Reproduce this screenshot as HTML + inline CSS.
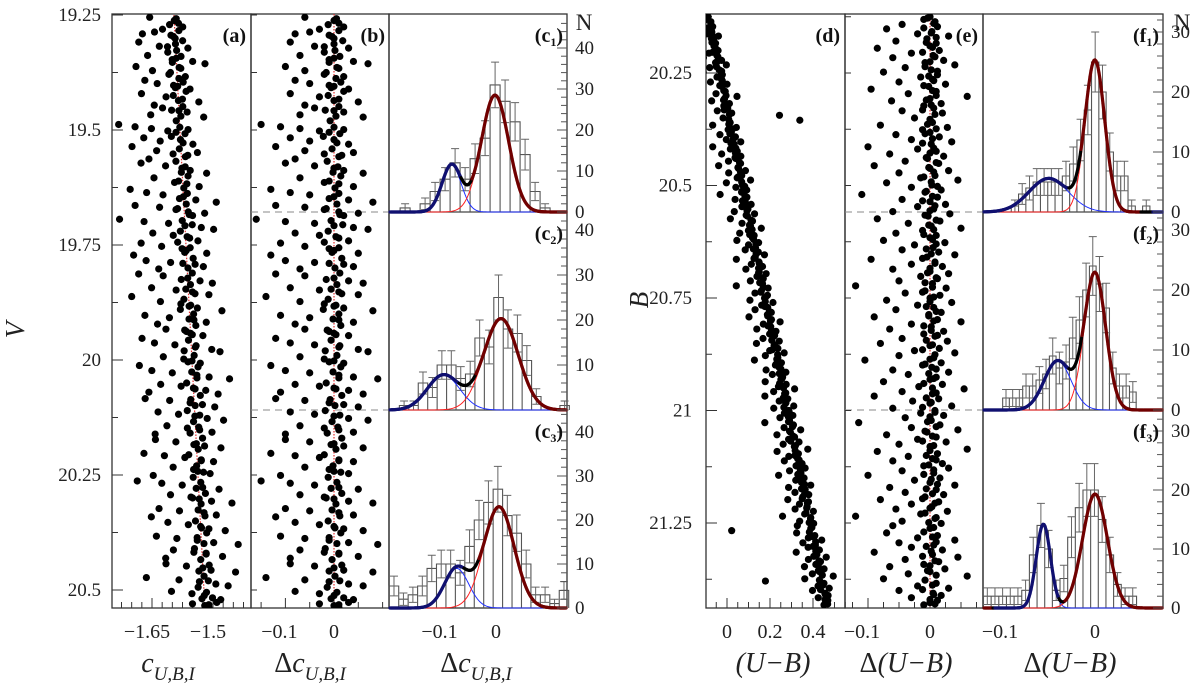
<!DOCTYPE html>
<html><head><meta charset="utf-8"><style>
html,body{margin:0;padding:0;background:#fff;}
svg, svg text{font-family:"Liberation Serif",serif;}
</style></head><body>
<svg id="fig" width="1200" height="685" viewBox="0 0 1200 685" font-family="Liberation Serif, serif" xmlns="http://www.w3.org/2000/svg">
<rect width="1200" height="685" fill="#fff"/>
<defs>
<clipPath id="clipA"><rect x="112" y="14" width="139" height="594"/></clipPath>
<clipPath id="clipB"><rect x="251" y="14" width="138" height="594"/></clipPath>
<clipPath id="clipD"><rect x="706" y="14" width="139" height="594"/></clipPath>
<clipPath id="clipE"><rect x="845" y="14" width="138" height="594"/></clipPath>
</defs>
<g id="layer"></g>
</svg>
<script>
// ---------------- DATA ----------------
const leftStars = "19.255 -0.06 19.262 0.00 19.268 0.01 19.281 -0.03 19.287 -0.05 19.294 -0.01 19.276 0.02 19.301 0.00 19.291 -0.08 19.309 -0.09 19.318 -0.04 19.313 0.00 19.322 0.03 19.331 -0.02 19.338 -0.07 19.344 0.00 19.351 0.04 19.347 -0.01 19.356 0.07 19.362 -0.10 19.371 -0.06 19.366 0.01 19.379 -0.02 19.384 0.02 19.392 -0.08 19.399 -0.05 19.405 0.00 19.411 0.03 19.403 -0.01 19.421 -0.09 19.428 -0.03 19.433 0.01 19.439 0.05 19.446 -0.06 19.452 -0.04 19.458 0.00 19.461 0.02 19.467 -0.07 19.472 0.06 19.488 -0.15 19.493 -0.11 19.497 -0.07 19.502 -0.03 19.494 0.00 19.505 -0.01 19.499 0.02 19.517 -0.09 19.524 -0.05 19.521 0.00 19.531 0.03 19.536 -0.12 19.545 -0.06 19.552 -0.02 19.558 0.01 19.549 0.04 19.563 -0.08 19.572 -0.10 19.578 -0.04 19.583 0.00 19.588 0.02 19.594 0.06 19.604 -0.07 19.611 -0.01 19.617 0.01 19.623 0.04 19.629 -0.13 19.636 -0.09 19.641 -0.05 19.645 0.00 19.652 0.03 19.657 0.08 19.664 -0.12 19.668 -0.06 19.673 -0.02 19.678 0.01 19.681 0.05 19.686 0.02 19.694 -0.16 19.699 -0.10 19.703 -0.04 19.708 0.00 19.712 0.04 19.716 0.07 19.724 -0.08 19.729 -0.03 19.735 0.01 19.741 0.03 19.746 -0.11 19.753 -0.06 19.758 -0.01 19.762 0.00 19.768 0.05 19.772 -0.13 19.784 -0.10 19.788 -0.04 19.792 0.02 19.797 0.04 19.802 -0.07 19.813 -0.12 19.817 -0.06 19.822 0.00 19.828 0.03 19.833 0.06 19.843 -0.09 19.848 -0.03 19.852 0.01 19.858 0.05 19.862 -0.14 19.873 -0.07 19.878 -0.02 19.883 0.00 19.887 0.02 19.893 0.08 19.903 -0.11 19.908 -0.05 19.913 0.01 19.918 0.04 19.922 -0.08 19.933 -0.06 19.938 -0.01 19.942 0.00 19.947 0.03 19.953 -0.12 19.963 -0.09 19.967 -0.04 19.972 0.01 19.977 0.05 19.982 0.07 19.993 -0.07 19.998 -0.02 20.002 0.00 20.007 0.02 20.012 -0.13 20.023 -0.10 20.028 -0.05 20.033 0.01 20.037 0.04 20.041 0.09 20.053 -0.08 20.057 -0.03 20.061 0.00 20.066 0.03 20.070 -0.11 20.074 0.06 20.084 -0.12 20.088 -0.06 20.093 -0.01 20.097 0.02 20.102 0.05 20.113 -0.09 20.118 -0.04 20.122 0.00 20.127 0.03 20.131 0.07 20.143 -0.07 20.148 -0.02 20.152 0.01 20.157 0.04 20.161 -0.10 20.173 -0.10 20.178 -0.05 20.182 0.00 20.187 0.02 20.191 0.06 20.203 -0.13 20.208 -0.08 20.212 -0.03 20.217 0.01 20.221 0.04 20.233 -0.06 20.238 -0.01 20.242 0.00 20.247 0.03 20.251 -0.11 20.263 -0.15 20.268 -0.09 20.272 -0.04 20.277 0.01 20.281 0.05 20.293 -0.07 20.298 -0.02 20.302 0.00 20.307 0.03 20.311 0.08 20.323 -0.10 20.328 -0.05 20.332 0.01 20.337 0.04 20.341 -0.12 20.353 -0.08 20.358 -0.03 20.362 0.00 20.367 0.02 20.371 0.06 20.383 -0.11 20.388 -0.06 20.392 -0.01 20.397 0.03 20.401 0.09 20.413 -0.07 20.418 -0.02 20.422 0.01 20.427 0.05 20.431 -0.09 20.443 -0.09 20.448 -0.04 20.452 0.00 20.457 0.02 20.461 0.08 20.473 -0.14 20.478 -0.06 20.482 -0.01 20.487 0.03 20.491 0.06 20.503 -0.08 20.508 -0.03 20.512 0.00 20.517 0.02 20.521 0.04 20.530 -0.03 20.534 0.00 20.538 0.01 20.527 0.03";
const leftCore = "19.258 0.005 19.271 -0.012 19.284 0.010 19.297 -0.004 19.306 0.018 19.319 -0.020 19.327 0.002 19.340 0.012 19.353 -0.010 19.364 0.006 19.375 -0.016 19.388 0.004 19.396 0.014 19.408 -0.006 19.416 0.020 19.425 -0.012 19.436 0.000 19.449 0.010 19.457 -0.018 19.470 0.004 19.480 -0.008 19.508 0.012 19.514 -0.022 19.528 0.006 19.541 -0.004 19.555 0.016 19.568 -0.014 19.580 0.008 19.592 -0.002 19.600 0.014 19.614 -0.020 19.626 0.002 19.638 0.010 19.649 -0.010 19.661 0.006 19.671 -0.016 19.684 0.012 19.697 -0.006 19.706 0.018 19.720 -0.012 19.732 0.004 19.744 -0.020 19.756 0.010 19.766 -0.004 19.779 0.016 19.790 -0.010 19.800 0.002 19.811 0.012 19.825 -0.016 19.836 0.006 19.846 -0.006 19.856 0.016 19.868 -0.012 19.881 0.004 19.890 -0.022 19.900 0.010 19.911 -0.002 19.925 0.014 19.935 -0.014 19.945 0.004 19.957 -0.006 19.969 0.012 19.980 -0.018 19.990 0.006 20.004 -0.010 20.015 0.014 20.026 -0.002 20.039 0.010 20.050 -0.016 20.063 0.004 20.077 0.016 20.086 -0.008 20.099 0.002 20.110 -0.018 20.120 0.012 20.134 -0.004 20.146 0.008 20.159 -0.014 20.170 0.016 20.184 -0.006 20.194 0.004 20.206 -0.020 20.219 0.010 20.230 -0.002 20.244 0.014 20.255 -0.012 20.266 0.006 20.279 -0.006 20.290 0.016 20.300 -0.016 20.313 0.004 20.326 -0.004 20.339 0.012 20.350 -0.012 20.365 0.002 20.376 0.014 20.386 -0.010 20.399 0.006 20.410 -0.018 20.420 0.010 20.434 -0.004 20.446 0.016 20.459 -0.010 20.470 0.002 20.480 0.012 20.494 -0.014 20.505 0.006 20.519 -0.006 20.532 0.010";
const rightStars = "20.125 0.000 20.131 -0.010 20.136 0.008 20.142 -0.045 20.147 0.012 20.152 -0.070 20.158 0.003 20.163 -0.020 20.168 0.030 20.174 -0.005 20.179 -0.055 20.184 0.010 20.190 0.000 20.195 -0.085 20.200 0.015 20.206 -0.030 20.211 0.005 20.216 -0.060 20.222 0.022 20.227 -0.008 20.232 0.040 20.238 -0.040 20.243 0.002 20.248 -0.075 20.254 0.012 20.259 -0.015 20.264 0.004 20.270 -0.050 20.275 0.025 20.280 -0.002 20.286 -0.095 20.291 0.010 20.296 -0.035 20.302 0.060 20.307 0.000 20.312 -0.062 20.318 0.018 20.323 -0.010 20.328 0.006 20.334 -0.045 20.339 0.020 20.344 0.240 20.350 -0.025 20.355 0.330 20.360 0.004 20.366 -0.080 20.371 0.028 20.376 -0.012 20.382 0.000 20.387 -0.055 20.392 0.015 20.398 -0.030 20.403 0.035 20.408 0.002 20.414 -0.100 20.419 -0.020 20.424 0.010 20.430 -0.065 20.435 0.022 20.440 -0.004 20.446 -0.040 20.451 0.014 20.456 -0.090 20.462 0.000 20.467 0.030 20.472 -0.050 20.478 0.008 20.483 -0.015 20.488 0.045 20.494 -0.070 20.499 0.003 20.504 -0.030 20.510 0.018 20.515 -0.008 20.520 -0.110 20.526 0.012 20.531 -0.045 20.536 0.000 20.542 0.025 20.547 -0.020 20.552 0.006 20.558 -0.060 20.563 0.032 20.568 -0.003 20.574 -0.085 20.579 0.016 20.584 -0.035 20.590 0.002 20.595 0.050 20.600 -0.012 20.606 -0.055 20.611 0.010 20.616 0.000 20.622 -0.075 20.627 0.024 20.632 -0.025 20.638 0.005 20.643 -0.045 20.648 0.014 20.654 0.040 20.659 -0.005 20.664 -0.095 20.670 0.008 20.675 -0.030 20.680 0.020 20.686 -0.060 20.691 0.000 20.696 0.030 20.702 -0.015 20.707 0.012 20.712 -0.050 20.718 0.004 20.723 -0.120 20.728 0.026 20.734 -0.008 20.739 -0.040 20.744 0.016 20.750 0.000 20.755 -0.070 20.760 0.035 20.766 -0.020 20.771 0.006 20.776 -0.055 20.782 0.018 20.787 -0.002 20.792 -0.090 20.798 0.012 20.803 0.050 20.808 -0.030 20.814 0.002 20.819 -0.065 20.824 0.022 20.830 -0.010 20.835 0.008 20.840 -0.045 20.846 0.028 20.851 -0.080 20.856 0.000 20.862 0.015 20.867 -0.025 20.872 0.040 20.878 -0.050 20.883 0.006 20.888 -0.105 20.894 0.018 20.899 -0.012 20.904 0.003 20.910 -0.060 20.915 0.030 20.920 -0.035 20.926 0.010 20.931 0.000 20.936 -0.075 20.942 0.020 20.947 -0.018 20.952 0.055 20.958 -0.045 20.963 0.004 20.968 -0.090 20.974 0.014 20.979 -0.028 20.984 0.000 20.990 0.035 20.995 -0.060 21.000 0.008 21.006 -0.015 21.011 0.022 21.016 -0.040 21.022 0.002 21.027 -0.115 21.032 0.016 21.038 -0.030 21.043 0.045 21.048 -0.005 21.054 -0.070 21.059 0.010 21.064 -0.020 21.070 0.026 21.075 -0.050 21.080 0.000 21.086 0.060 21.091 -0.085 21.096 0.012 21.102 -0.035 21.107 0.004 21.112 -0.060 21.118 0.020 21.123 -0.010 21.128 0.030 21.134 -0.045 21.139 0.006 21.144 -0.100 21.150 0.016 21.155 -0.025 21.160 0.000 21.166 0.040 21.171 -0.065 21.176 0.010 21.182 -0.040 21.187 0.022 21.192 -0.008 21.198 -0.080 21.203 0.014 21.208 -0.030 21.214 0.003 21.219 -0.055 21.224 0.028 21.230 -0.015 21.235 -0.120 21.240 0.008 21.246 -0.045 21.251 0.018 21.256 -0.060 21.262 0.000 21.267 -0.370 21.272 -0.070 21.278 0.012 21.283 -0.020 21.288 0.040 21.294 -0.050 21.299 0.006 21.304 -0.030 21.310 0.020 21.315 -0.090 21.320 0.004 21.326 0.045 21.331 -0.040 21.336 0.014 21.342 -0.010 21.347 -0.065 21.352 0.024 21.358 0.000 21.363 -0.035 21.368 0.060 21.374 -0.075 21.379 -0.260 21.384 0.010 21.390 -0.020 21.395 0.030 21.400 -0.050 21.406 0.005 21.411 0.018 21.416 -0.030 21.422 0.012 21.427 0.000 21.432 -0.010";
const rightCore = "20.128 -0.004 20.140 0.006 20.150 -0.010 20.161 0.002 20.171 0.010 20.182 -0.006 20.193 0.004 20.204 -0.012 20.214 0.008 20.225 0.000 20.236 -0.008 20.246 0.012 20.257 -0.002 20.267 0.006 20.278 -0.010 20.289 0.004 20.300 0.010 20.310 -0.006 20.321 0.002 20.332 -0.012 20.342 0.008 20.353 0.000 20.364 -0.004 20.374 0.010 20.385 -0.008 20.396 0.004 20.406 -0.012 20.417 0.006 20.428 0.000 20.438 -0.006 20.449 0.010 20.460 -0.002 20.470 0.006 20.481 -0.010 20.492 0.002 20.502 0.012 20.513 -0.006 20.524 0.004 20.534 -0.012 20.545 0.008 20.556 0.000 20.566 -0.008 20.577 0.010 20.588 -0.002 20.598 0.006 20.609 -0.010 20.620 0.004 20.630 0.010 20.641 -0.006 20.652 0.002 20.662 -0.012 20.673 0.008 20.684 0.000 20.694 -0.004 20.705 0.010 20.716 -0.008 20.726 0.004 20.737 -0.012 20.748 0.006 20.758 0.000 20.769 -0.006 20.780 0.010 20.790 -0.002 20.801 0.006 20.812 -0.010 20.822 0.002 20.833 0.012 20.844 -0.006 20.854 0.004 20.865 -0.012 20.876 0.008 20.886 0.000 20.897 -0.008 20.908 0.010 20.918 -0.002 20.929 0.006 20.940 -0.010 20.950 0.004 20.961 0.010 20.972 -0.006 20.982 0.002 20.993 -0.012 21.004 0.008 21.014 0.000 21.025 -0.004 21.036 0.010 21.046 -0.008 21.057 0.004 21.068 -0.012 21.078 0.006 21.089 0.000 21.100 -0.006 21.110 0.010 21.121 -0.002 21.132 0.006 21.142 -0.010 21.153 0.002 21.164 0.012 21.174 -0.006 21.185 0.004 21.196 -0.012 21.206 0.008 21.217 0.000 21.228 -0.008 21.238 0.010 21.249 -0.002 21.260 0.006 21.270 -0.010 21.281 0.004 21.292 0.010 21.302 -0.006 21.313 0.002 21.324 -0.012 21.334 0.008 21.345 0.000 21.356 -0.004 21.366 0.010 21.377 -0.008 21.388 0.004 21.398 -0.012 21.409 0.006 21.420 0.000 21.430 0.008";

const c1Start = -0.18, c1Width = 0.0198, c1Counts = [1,0,2,5,8,12,8,13,18,31,27,22,14,5,1,0];
const c2Start = -0.182, c2Width = 0.0187, c2Counts = [1,1,6,5,10,10,7,8,16,14,25,18,17,11,3,0,0,1];
const c3Start = -0.202, c3Width = 0.0187, c3Counts = [5,2,3,5,9,10,10,8,14,20,24,27,21,17,10,3,3,1,4];
const f1Start = -0.090, f1Width = 0.0082, f1Counts = [1,3,4,5,5,5,5,6,8,12,17,25,20,10,6,6,1,0,1];
const f2Start = -0.100, f2Width = 0.0075, f2Counts = [2,2,2,4,4,5,6,9,7,8,12,15,20,24,21,17,7,4,4,3];
const f3Start = -0.121, f3Width = 0.0086, f3Counts = [2,2,2,2,2,3,9,14,10,3,5,12,17,20,20,15,9,4,2,2];
const c1Blue = [11.5,-0.088,0.019], c1Red = [28.5,-0.002,0.027];
const c2Blue = [7.8,-0.104,0.032],  c2Red = [20.3,0.010,0.034];
const c3Blue = [9.0,-0.078,0.024],  c3Red = [23.0,0.006,0.030];
const f1Blue = [5.6,-0.052,0.022],  f1Red = [25.0,0.000,0.011];
const f2Blue = [8.2,-0.042,0.015],  f2Red = [22.8,0.000,0.012];
const f3Blue = [14.2,-0.058,0.008], f3Red = [19.3,0.000,0.014];

// ---------------- SCALES ----------------
const NS = "http://www.w3.org/2000/svg";
const FONT = '"Liberation Serif", serif';
const layer = document.getElementById('layer');
function el(tag, attrs, parent){ const e=document.createElementNS(NS,tag); for(const k in attrs) e.setAttribute(k,attrs[k]); (parent||layer).appendChild(e); return e; }
function txt(x,y,s,size,anchor,extra){ const t=el('text',Object.assign({x:x,y:y,'font-size':size,'text-anchor':anchor||'middle',fill:'#222','font-family':FONT},extra||{})); t.textContent=s; return t; }

const yV = V => 15 + (V-19.25)*460;
const xA = c => 152 + (c+1.65)*406.7;
const xB = d => 334 + d*486;
const fidA = V => -1.596 + (V-19.25)*0.059;
const yBm = B => 73 + (B-20.25)*450;
const xD = u => 727 + u*215;
const xE = d => 930 + d*620;
const fidD = B => -0.09 + (B-20.12)*0.42;
const xC = v => 496 + v*505;
const xF = v => 1095 + v*890;

function parse(s){ const a=s.trim().split(/\s+/).map(Number); const out=[]; for(let i=0;i<a.length;i+=2) out.push([a[i],a[i+1]]); return out; }
const L = parse(leftStars).concat(parse(leftCore)), R = parse(rightStars).concat(parse(rightCore));

// ---------------- FRAMES ----------------
const FR = '#333';
function frame(x1,x2,name){ const r=el('rect',{x:x1,y:14,width:x2-x1,height:594,fill:'none',stroke:FR,'stroke-width':1.3});   }
frame(112,251,'panel-a-frame'); frame(251,389,'panel-b-frame'); frame(389,567,'panel-c-frame');
frame(706,845,'panel-d-frame'); frame(845,983,'panel-e-frame'); frame(983,1163,'panel-f-frame');

[212,410].forEach(y=>{
  const d1=el('line',{x1:251,x2:389,y1:y,y2:y,stroke:'#888','stroke-width':1,'stroke-dasharray':'7 5'});
   
  const d2=el('line',{x1:845,x2:983,y1:y,y2:y,stroke:'#888','stroke-width':1,'stroke-dasharray':'7 5'});
   
  el('line',{x1:389,x2:567,y1:y,y2:y,stroke:'#444','stroke-width':1.3});
  el('line',{x1:983,x2:1163,y1:y,y2:y,stroke:'#444','stroke-width':1.3});
});

// ---------------- Y AXES ----------------
[19.25,19.5,19.75,20,20.25,20.5].forEach(V=>{
  const t=txt(101,yV(V)+6,String(V),19,'end');  
});
for(let V=19.25; V<=20.55; V+=0.125){
  const y=yV(V), major=Math.abs(V*4-Math.round(V*4))<0.01;
  el('line',{x1:112,x2:112+(major?11:6),y1:y,y2:y,stroke:FR,'stroke-width':1});
  el('line',{x1:251,x2:257,y1:y,y2:y,stroke:FR,'stroke-width':1});
}
[20.25,20.5,20.75,21,21.25].forEach(B=>{
  const t=txt(692,yBm(B)+6,String(B),19,'end');  
});
for(let B=20.125; B<=21.44; B+=0.125){
  const y=yBm(B), major=Math.abs(B*4-Math.round(B*4))<0.01;
  el('line',{x1:706,x2:706+(major?11:6),y1:y,y2:y,stroke:FR,'stroke-width':1});
  el('line',{x1:845,x2:851,y1:y,y2:y,stroke:FR,'stroke-width':1});
}
let t;
t=txt(0,0,'V',27,'middle',{'font-style':'italic',transform:'translate(24,330) rotate(-90)'});  
t=txt(0,0,'B',27,'middle',{'font-style':'italic',transform:'translate(648,300) rotate(-90)'});  

// ---------------- X AXES ----------------
function xticks(fn,from,to,step,majors){
  for(let v=from; v<=to+1e-9; v+=step){ const x=fn(v); const m=majors.some(M=>Math.abs(M-v)<1e-6); el('line',{x1:x,x2:x,y1:608,y2:608-(m?10:6),stroke:FR,'stroke-width':1}); }
}
xticks(xA,-1.725,-1.425,0.025,[-1.65,-1.5]);
xticks(xB,-0.15,0.1,0.05,[-0.1,0]);
xticks(xD,-0.05,0.55,0.05,[0,0.2,0.4]);
xticks(xE,-0.125,0.075,0.025,[-0.1,0]);
function xl(x,s,name){ const t=txt(x,638,s,20,'middle');   }
xl(xA(-1.65)-5,'−1.65','x-tick-a'); xl(xA(-1.5)-5,'−1.5','x-tick-a');
xl(xB(-0.1)-6,'−0.1','x-tick-b'); xl(xB(0),'0','x-tick-b');
xl(xC(-0.1)-6,'−0.1','x-tick-c'); xl(xC(0),'0','x-tick-c');
xl(xD(0),'0','x-tick-d'); xl(xD(0.2),'0.2','x-tick-d'); xl(xD(0.4),'0.4','x-tick-d');
xl(xE(-0.1)-6,'−0.1','x-tick-e'); xl(xE(0),'0','x-tick-e');
xl(xF(-0.1)-6,'−0.1','x-tick-f'); xl(xF(0),'0','x-tick-f');

function xtitle(x,html,name){ const t=el('text',{x:x,y:672,'font-size':28,'text-anchor':'middle','font-style':'italic',fill:'#222','font-family':FONT}); t.innerHTML=html;   }
xtitle(168,'c<tspan font-size="19" dy="8">U,B,I</tspan>','x-axis-title-a');
xtitle(310,'<tspan font-style="normal">Δ</tspan>c<tspan font-size="19" dy="8">U,B,I</tspan>','x-axis-title-b');
xtitle(476,'<tspan font-style="normal">Δ</tspan>c<tspan font-size="19" dy="8">U,B,I</tspan>','x-axis-title-c');
xtitle(773,'(U−B)','x-axis-title-d');
xtitle(906,'<tspan font-style="normal">Δ</tspan>(U−B)','x-axis-title-e');
xtitle(1070,'<tspan font-style="normal">Δ</tspan>(U−B)','x-axis-title-f');

// ---------------- FIDUCIALS ----------------
function fidLine(pts,clip,name){ const p=el('polyline',{points:pts.map(q=>q.join(',')).join(' '),fill:'none',stroke:'#e03030','stroke-width':1.2,'stroke-dasharray':'1.5 1.5','clip-path':'url(#'+clip+')'});   }
fidLine([[xA(fidA(19.25)),yV(19.25)],[xA(fidA(20.55)),yV(20.55)]],'clipA','fiducial-a');
fidLine([[xB(0),14],[xB(0),608]],'clipB','fiducial-b');
fidLine([[xD(fidD(20.12)),yBm(20.12)],[xD(fidD(21.45)),yBm(21.45)]],'clipD','fiducial-d');
fidLine([[xE(0),14],[xE(0),608]],'clipE','fiducial-e');

// ---------------- SCATTER ----------------
const gA=el('g',{'clip-path':'url(#clipA)'});  
const gB=el('g',{'clip-path':'url(#clipB)'});  
const gD=el('g',{'clip-path':'url(#clipD)'});  
const gE=el('g',{'clip-path':'url(#clipE)'});  
L.forEach(([V,d])=>{
  const c1=el('circle',{cx:xA(fidA(V)+d),cy:yV(V),r:3.6,fill:'#000'},gA);
   
  const c2=el('circle',{cx:xB(d),cy:yV(V),r:3.6,fill:'#000'},gB);
   
});
R.forEach(([B,d])=>{
  const c1=el('circle',{cx:xD(fidD(B)+d),cy:yBm(B),r:3.6,fill:'#000'},gD);
   
  const c2=el('circle',{cx:xE(d),cy:yBm(B),r:3.6,fill:'#000'},gE);
   
});

// ---------------- HISTOGRAMS ----------------
function gauss(g,v){ return g[0]*Math.exp(-0.5*Math.pow((v-g[1])/g[2],2)); }
function histPanel(opt){
  const {xs,x0,x1,base,k,start,width,counts,blue,red,name,inv}=opt;
  const g=el('g',{});  
  const y = n => base - n*k;
  let d='';
  counts.forEach((n,i)=>{ const a=xs(start+(i-0.5)*width), b=xs(start+(i+0.5)*width);
    d+=(i===0?'M'+a+','+base:'')+' L'+a+','+y(n)+' L'+b+','+y(n)+' L'+b+','+base+' ';
  });
  const p=el('path',{d:d,fill:'none',stroke:'#555','stroke-width':1.1},g);
   
  counts.forEach((n,i)=>{ if(n<=0) return; const cx=xs(start+i*width), e=Math.sqrt(n);
    const top=Math.max(y(n+e),base-194);
    const l=el('path',{d:'M'+cx+','+top+' L'+cx+','+y(n-e)+' M'+(cx-4)+','+top+' L'+(cx+4)+','+top+' M'+(cx-4)+','+y(n-e)+' L'+(cx+4)+','+y(n-e),stroke:'#666','stroke-width':1,fill:'none'},g);
     
  });
  const vs=[]; for(let px=x0; px<=x1; px+=1) vs.push(px);
  let pb='',pr='';
  vs.forEach((px,i)=>{ const v=inv(px); pb+=(i?'L':'M')+px+','+y(gauss(blue,v)); pr+=(i?'L':'M')+px+','+y(gauss(red,v)); });
  const cb=el('path',{d:pb,fill:'none',stroke:'#2030ff','stroke-width':1},g);  
  const cr=el('path',{d:pr,fill:'none',stroke:'#ff2020','stroke-width':1},g);  
  for(let i=0;i<vs.length-1;i++){
    const va=inv(vs[i]), vb=inv(vs[i+1]);
    const sa=gauss(blue,va)+gauss(red,va), sb=gauss(blue,vb)+gauss(red,vb);
    const fb=gauss(blue,va)/Math.max(sa,1e-9);
    const col = fb>0.85 ? '#101070' : (fb<0.15 ? '#700000' : '#000');
    const s=el('line',{x1:vs[i],y1:y(sa),x2:vs[i+1],y2:y(sb),stroke:col,'stroke-width':3.2,'stroke-linecap':'round'},g);
     
  }
}
const invC = px => (px-496)/505, invF = px => (px-1095)/890;
histPanel({name:'histogram-c1',xs:xC,inv:invC,x0:390,x1:566,base:212,k:4.1,start:c1Start,width:c1Width,counts:c1Counts,blue:c1Blue,red:c1Red});
histPanel({name:'histogram-c2',xs:xC,inv:invC,x0:390,x1:566,base:410,k:4.5,start:c2Start,width:c2Width,counts:c2Counts,blue:c2Blue,red:c2Red});
histPanel({name:'histogram-c3',xs:xC,inv:invC,x0:390,x1:566,base:608,k:4.4,start:c3Start,width:c3Width,counts:c3Counts,blue:c3Blue,red:c3Red});
histPanel({name:'histogram-f1',xs:xF,inv:invF,x0:984,x1:1162,base:212,k:6.0,start:f1Start,width:f1Width,counts:f1Counts,blue:f1Blue,red:f1Red});
histPanel({name:'histogram-f2',xs:xF,inv:invF,x0:984,x1:1162,base:410,k:6.0,start:f2Start,width:f2Width,counts:f2Counts,blue:f2Blue,red:f2Red});
histPanel({name:'histogram-f3',xs:xF,inv:invF,x0:984,x1:1162,base:608,k:5.9,start:f3Start,width:f3Width,counts:f3Counts,blue:f3Blue,red:f3Red});

// ---------------- RIGHT N AXES ----------------
function nAxis(xr,base,k,max,labels,stepMinor){
  for(let n=0;n<=max;n+=stepMinor){ const y=base-n*k; if(y<base-196) break; const m=n%10===0;
    el('line',{x1:xr,x2:xr-(m?10:6),y1:y,y2:y,stroke:'#555','stroke-width':1}); }
  labels.forEach(n=>{ const tt=txt(xr+8,base-n*k+6,String(n),19,'start');   });
}
nAxis(567,212,4.1,46,[0,10,20,30,40],2);
nAxis(567,410,4.5,43,[10,20,30,40],2);
nAxis(567,608,4.4,44,[0,10,20,30,40],2);
nAxis(1163,212,6,32,[0,10,20,30],2);
nAxis(1163,410,6,32,[0,10,20,30],2);
nAxis(1163,608,5.9,32,[0,10,20,30],2);
t=txt(584,30,'N',23,'middle');  
t=txt(1182,30,'N',23,'middle');  

// ---------------- PANEL LABELS ----------------
function plab(x,y,html,name){ const tt=el('text',{x:x,y:y,'font-size':20,'font-weight':'bold','text-anchor':'end',fill:'#111','font-family':FONT}); tt.innerHTML=html;   }
plab(246,42,'(a)','panel-label-a'); plab(385,42,'(b)','panel-label-b');
plab(563,42,'(c<tspan font-size="12" dy="4">1</tspan><tspan dy="-4">)</tspan>','panel-label-c1');
plab(563,240,'(c<tspan font-size="12" dy="4">2</tspan><tspan dy="-4">)</tspan>','panel-label-c2');
plab(563,438,'(c<tspan font-size="12" dy="4">3</tspan><tspan dy="-4">)</tspan>','panel-label-c3');
plab(840,42,'(d)','panel-label-d'); plab(978,42,'(e)','panel-label-e');
plab(1159,42,'(f<tspan font-size="12" dy="4">1</tspan><tspan dy="-4">)</tspan>','panel-label-f1');
plab(1159,240,'(f<tspan font-size="12" dy="4">2</tspan><tspan dy="-4">)</tspan>','panel-label-f2');
plab(1159,438,'(f<tspan font-size="12" dy="4">3</tspan><tspan dy="-4">)</tspan>','panel-label-f3');
</script>
</body></html>
